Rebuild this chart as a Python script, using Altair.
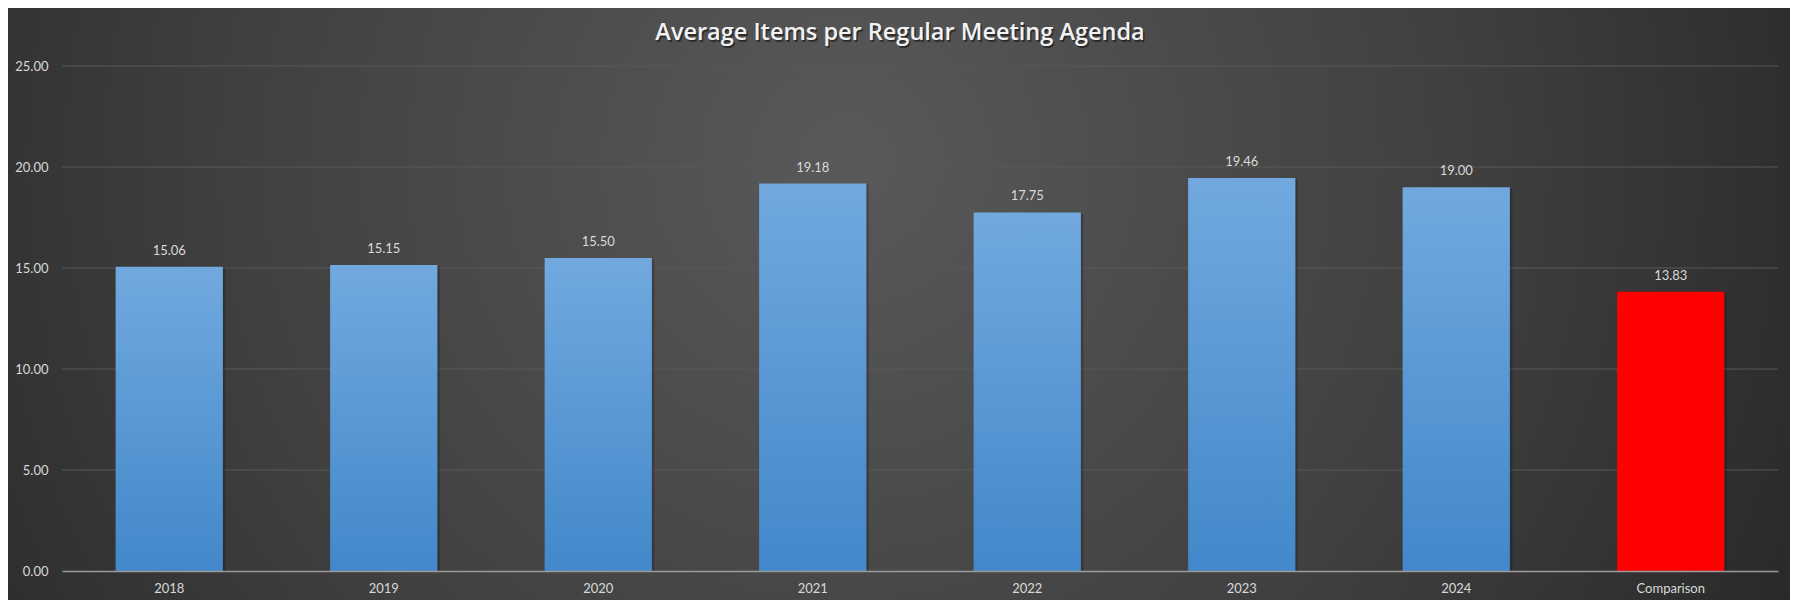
import altair as alt
import pandas as pd

categories = ["2018", "2019", "2020", "2021", "2022", "2023", "2024", "Comparison"]
values = [15.06, 15.15, 15.50, 19.18, 17.75, 19.46, 19.00, 13.83]
kinds = ["year"] * 7 + ["comparison"]
y_ticks = [0, 5, 10, 15, 20, 25]
title_text = "Average Items per Regular Meeting Agenda"

df = pd.DataFrame({"cat": categories, "val": values, "kind": kinds})
grid_df = pd.DataFrame({"t": y_ticks})
bg_df = pd.DataFrame({"a": [0]})
title_df = pd.DataFrame({"title": [title_text]})

W, H = 1716, 505
PL, PT, PR, PB = 54, 58, 12, 29
FONT = "Lato"
TFONT = "Open Sans"

xscale = alt.Scale(domain=categories, paddingInner=0.5, paddingOuter=0.25)
yscale = alt.Scale(domain=[0, 25], nice=False, zero=True)

bg = alt.Chart(bg_df).mark_rect(
    fill={
        "gradient": "radial",
        "x1": 0.47, "y1": 0.42, "r1": 0,
        "x2": 0.47, "y2": 0.42, "r2": 0.62,
        "stops": [
            {"offset": 0, "color": "#595959"},
            {"offset": 0.55, "color": "#404040"},
            {"offset": 1, "color": "#262626"},
        ],
    },
    strokeWidth=0,
).encode(
    x=alt.value(-PL), x2=alt.value(W + PR),
    y=alt.value(-PT), y2=alt.value(H + PB),
)

grid = alt.Chart(grid_df).transform_filter("datum.t > 0").mark_rule(
    color="#585858", strokeWidth=1
).encode(
    y=alt.Y("t:Q", scale=yscale),
    x=alt.value(0), x2=alt.value(W),
)

base = alt.Chart(df).encode(
    x=alt.X("cat:N", scale=xscale, sort=categories,
            axis=alt.Axis(title=None, labelAngle=0, labelColor="#d9d9d9",
                          labelFont=FONT, labelFontSize=13, labelPadding=11,
                          ticks=False, domain=True, domainColor="#9a9a9a",
                          domainWidth=1.5, grid=False, zindex=1)),
    y=alt.Y("val:Q", scale=yscale,
            axis=alt.Axis(title=None, values=y_ticks, format=".2f",
                          labelColor="#d9d9d9", labelFont=FONT, labelFontSize=13,
                          labelPadding=14, ticks=False, domain=False, grid=False,
                          zindex=1)),
)

shadow = base.mark_bar(color="#000000", opacity=0.2, xOffset=2.5, yOffset=1)

blue = base.transform_filter("datum.kind == 'year'").mark_bar(
    fill={
        "gradient": "linear", "x1": 0, "y1": 0, "x2": 0, "y2": 1,
        "stops": [
            {"offset": 0, "color": "#71a9df"},
            {"offset": 1, "color": "#4288ca"},
        ],
    }
)

red = base.transform_filter("datum.kind == 'comparison'").mark_bar(fill="#ff0000")

labels = base.mark_text(
    baseline="middle", dy=-16, color="#d9d9d9", font=FONT, fontSize=13
).encode(text=alt.Text("val:Q", format=".2f"))

title_shadow = alt.Chart(title_df).mark_text(
    font=TFONT, fontSize=23.5, fontWeight=600, color="#000000", opacity=0.45,
    align="center", baseline="middle", dx=1.5, dy=2,
).encode(text="title:N", x=alt.value(838), y=alt.value(-33))

title = alt.Chart(title_df).mark_text(
    font=TFONT, fontSize=23.5, fontWeight=600, color="#f2f2f2",
    align="center", baseline="middle",
).encode(text="title:N", x=alt.value(838), y=alt.value(-33))

chart = alt.layer(bg, grid, shadow, blue, red, labels, title_shadow, title).properties(
    width=W, height=H,
    padding={"left": PL, "top": PT, "right": PR, "bottom": PB},
    autosize=alt.AutoSizeParams(type="none"),
).configure(background="#2a2a2a").configure_view(stroke=None)

chart.save("out.html", embed_options={"renderer": "svg", "actions": False})
